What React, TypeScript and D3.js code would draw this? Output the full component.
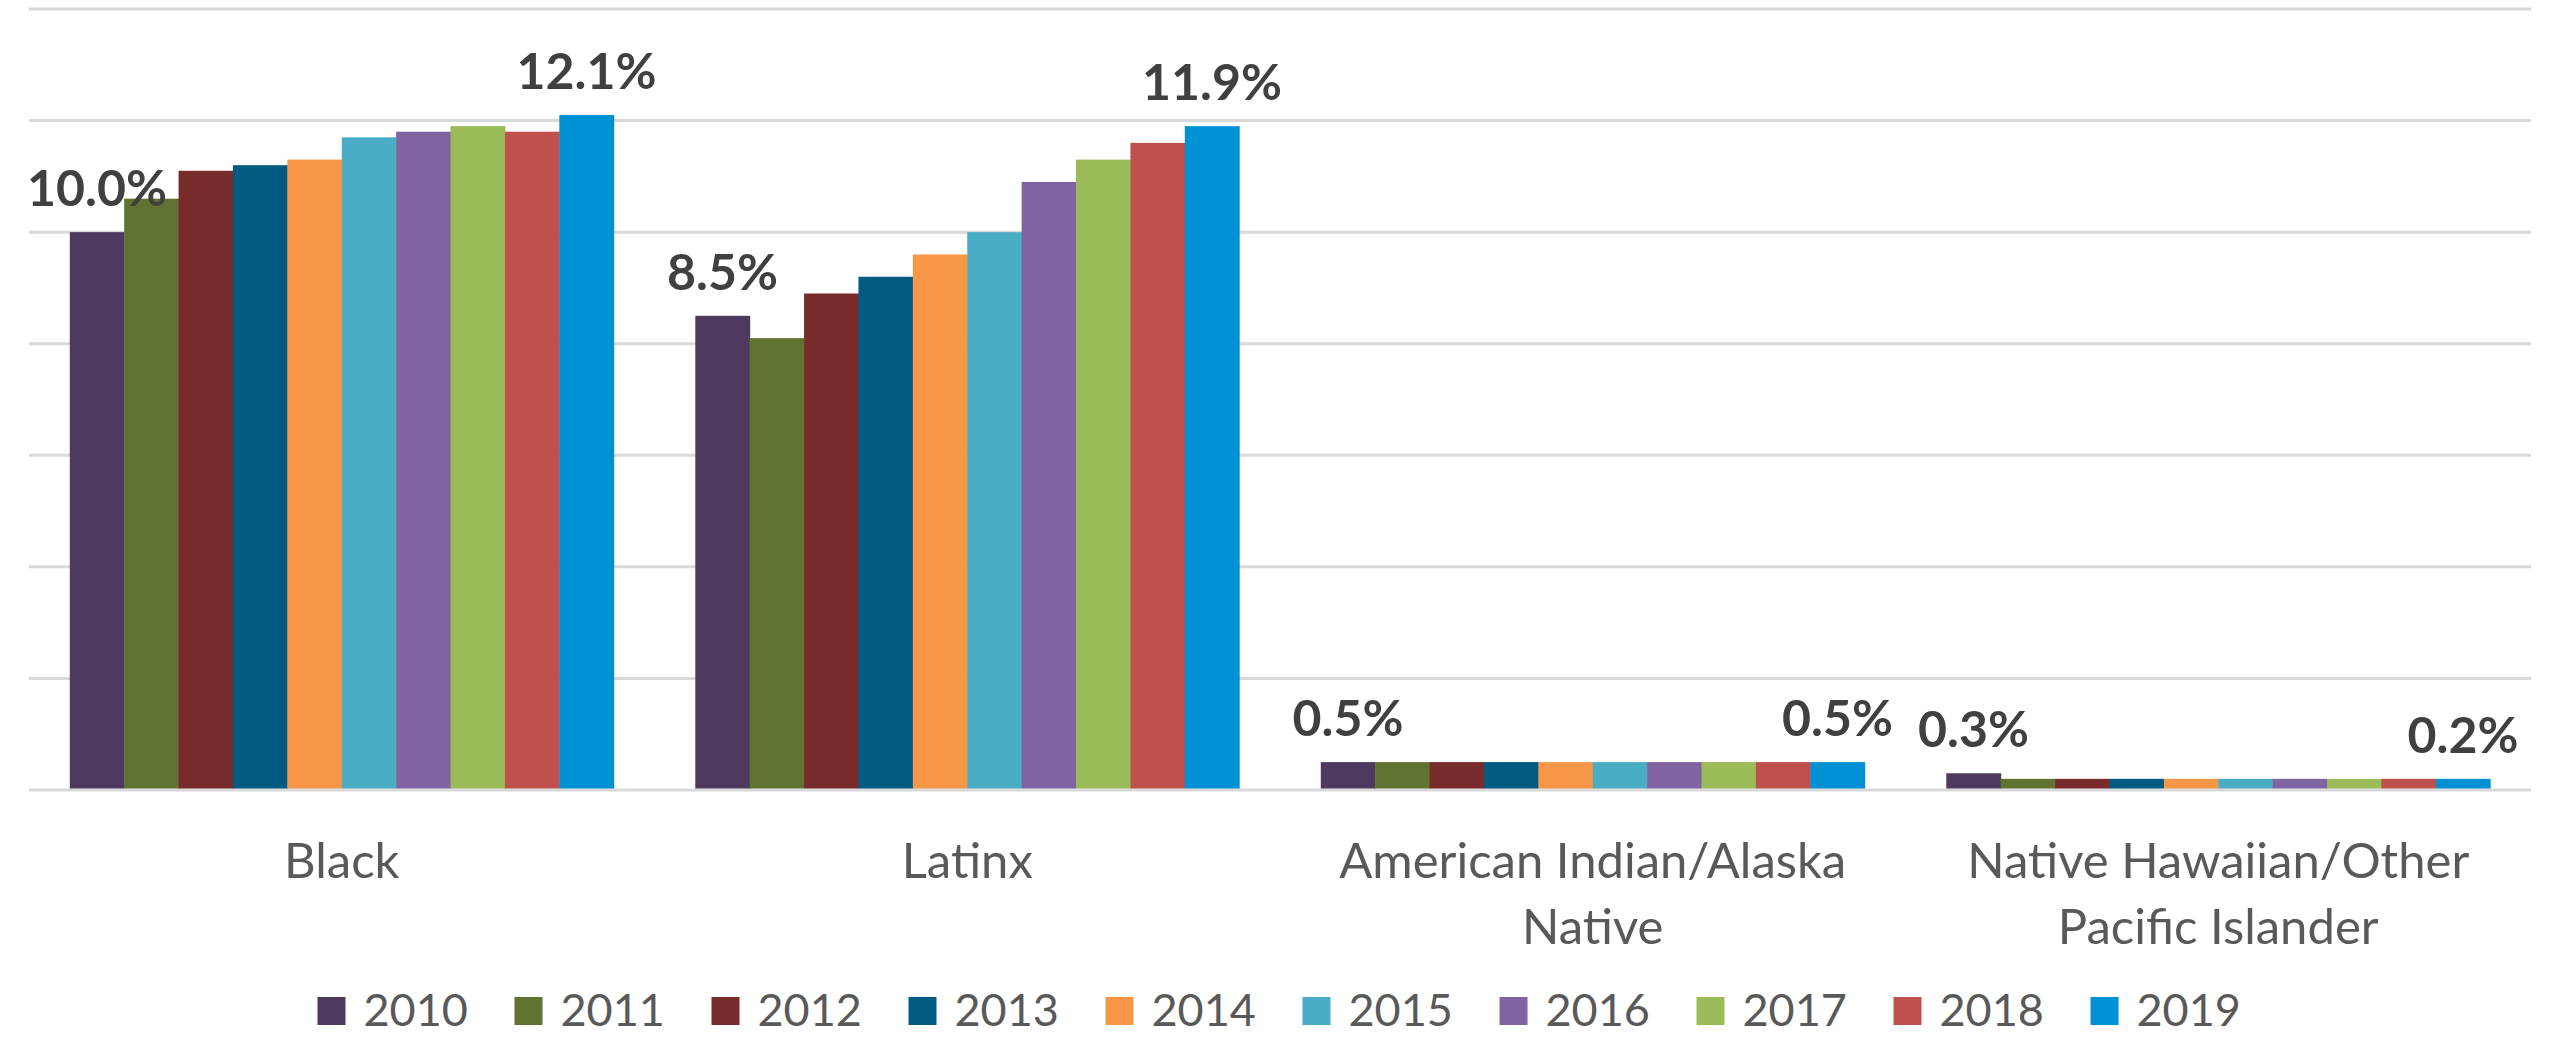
import * as d3 from "d3";
import { useEffect } from "react";

const width = 2552;
const height = 1037;
const margin = { top: 9, right: 21, bottom: 247, left: 29 };

const categories = [
  "Black",
  "Latinx",
  "American Indian/Alaska Native",
  "Native Hawaiian/Other Pacific Islander",
];
const years = ["2010", "2011", "2012", "2013", "2014", "2015", "2016", "2017", "2018", "2019"];

// percent of population, one array per category (2010..2019)
const blackValues = [10.0, 10.6, 11.1, 11.2, 11.3, 11.7, 11.8, 11.9, 11.8, 12.1];
const latinxValues = [8.5, 8.1, 8.9, 9.2, 9.6, 10.0, 10.9, 11.3, 11.6, 11.9];
const aianValues = [0.5, 0.5, 0.5, 0.5, 0.5, 0.5, 0.5, 0.5, 0.5, 0.5];
const nhpiValues = [0.3, 0.2, 0.2, 0.2, 0.2, 0.2, 0.2, 0.2, 0.2, 0.2];
const seriesByCategory = [blackValues, latinxValues, aianValues, nhpiValues];

const yTicks = [0, 2, 4, 6, 8, 10, 12, 14];

const colors = [
  "#4E3A5F",
  "#617330",
  "#772B2B",
  "#005A82",
  "#F79646",
  "#4BACC6",
  "#8064A2",
  "#9BBB59",
  "#C0504D",
  "#0091D5",
];

const font = "Lato, 'Open Sans', sans-serif";

function wrap(label: string, maxChars: number) {
  const words = label.split(" ");
  const lines: string[] = [];
  let cur = "";
  words.forEach((w) => {
    const next = cur ? cur + " " + w : w;
    if (next.length > maxChars && cur) {
      lines.push(cur);
      cur = w;
    } else {
      cur = next;
    }
  });
  if (cur) lines.push(cur);
  return lines;
}

export default function App() {
  useEffect(() => {
    document.body.style.margin = "0";
  }, []);

  const x0 = d3
    .scaleBand()
    .domain(categories)
    .range([margin.left, width - margin.right])
    .paddingInner(0)
    .paddingOuter(0);

  const x1 = d3
    .scaleBand()
    .domain(years)
    .range([0, x0.bandwidth()])
    .paddingInner(0)
    .paddingOuter(0.75);

  const y = d3
    .scaleLinear()
    .domain([0, 14])
    .range([height - margin.bottom, margin.top]);

  const color = d3.scaleOrdinal<string, string>().domain(years).range(colors);
  const fmt = (v: number) => d3.format(".1f")(v) + "%";

  // legend layout
  const swatch = 28;
  const itemStep = 197;
  const legendWidth = itemStep * (years.length - 1) + 152;
  const legendStart = (margin.left + width - margin.right) / 2 - legendWidth / 2;
  const legendX = d3
    .scalePoint()
    .domain(years)
    .range([legendStart, legendStart + itemStep * (years.length - 1)]);
  const legendY = 997;

  return (
    <svg
      width={width}
      height={height}
      style={{ position: "absolute", left: 0, top: 0, display: "block", background: "#fff" }}
    >
      <g>
        {yTicks.map((t) => (
          <line
            key={t}
            x1={margin.left}
            x2={width - margin.right}
            y1={y(t)}
            y2={y(t)}
            stroke="#D9D9D9"
            strokeWidth={3}
          />
        ))}
      </g>

      {categories.map((c, ci) => (
        <g key={c} transform={`translate(${x0(c)},0)`}>
          {years.map((yr, yi) => {
            const v = seriesByCategory[ci][yi];
            return (
              <rect
                key={yr}
                x={x1(yr)}
                y={y(v)}
                width={x1.bandwidth() + 0.5}
                height={y(0) - y(v) - 1.5}
                fill={color(yr)}
              />
            );
          })}
          {[0, years.length - 1].map((yi) => {
            const v = seriesByCategory[ci][yi];
            const yr = years[yi];
            return (
              <text
                key={"l" + yi}
                x={(x1(yr) as number) + x1.bandwidth() / 2}
                y={y(v) - 26}
                textAnchor="middle"
                fontFamily={font}
                fontWeight={700}
                fontSize={50}
                fill="#404040"
              >
                {fmt(v)}
              </text>
            );
          })}
          <text
            x={x0.bandwidth() / 2}
            y={878}
            textAnchor="middle"
            fontFamily={font}
            fontSize={49}
            fill="#595959"
          >
            {wrap(c, 22).map((line, li) => (
              <tspan key={li} x={x0.bandwidth() / 2} dy={li === 0 ? 0 : 66}>
                {line}
              </tspan>
            ))}
          </text>
        </g>
      ))}

      <g>
        {years.map((yr) => (
          <g key={yr} transform={`translate(${legendX(yr)},${legendY})`}>
            <rect x={0} y={0} width={swatch} height={swatch} fill={color(yr)} />
            <text
              x={swatch + 18}
              y={swatch + 1}
              fontFamily={font}
              fontSize={45}
              fill="#595959"
            >
              {yr}
            </text>
          </g>
        ))}
      </g>
    </svg>
  );
}
